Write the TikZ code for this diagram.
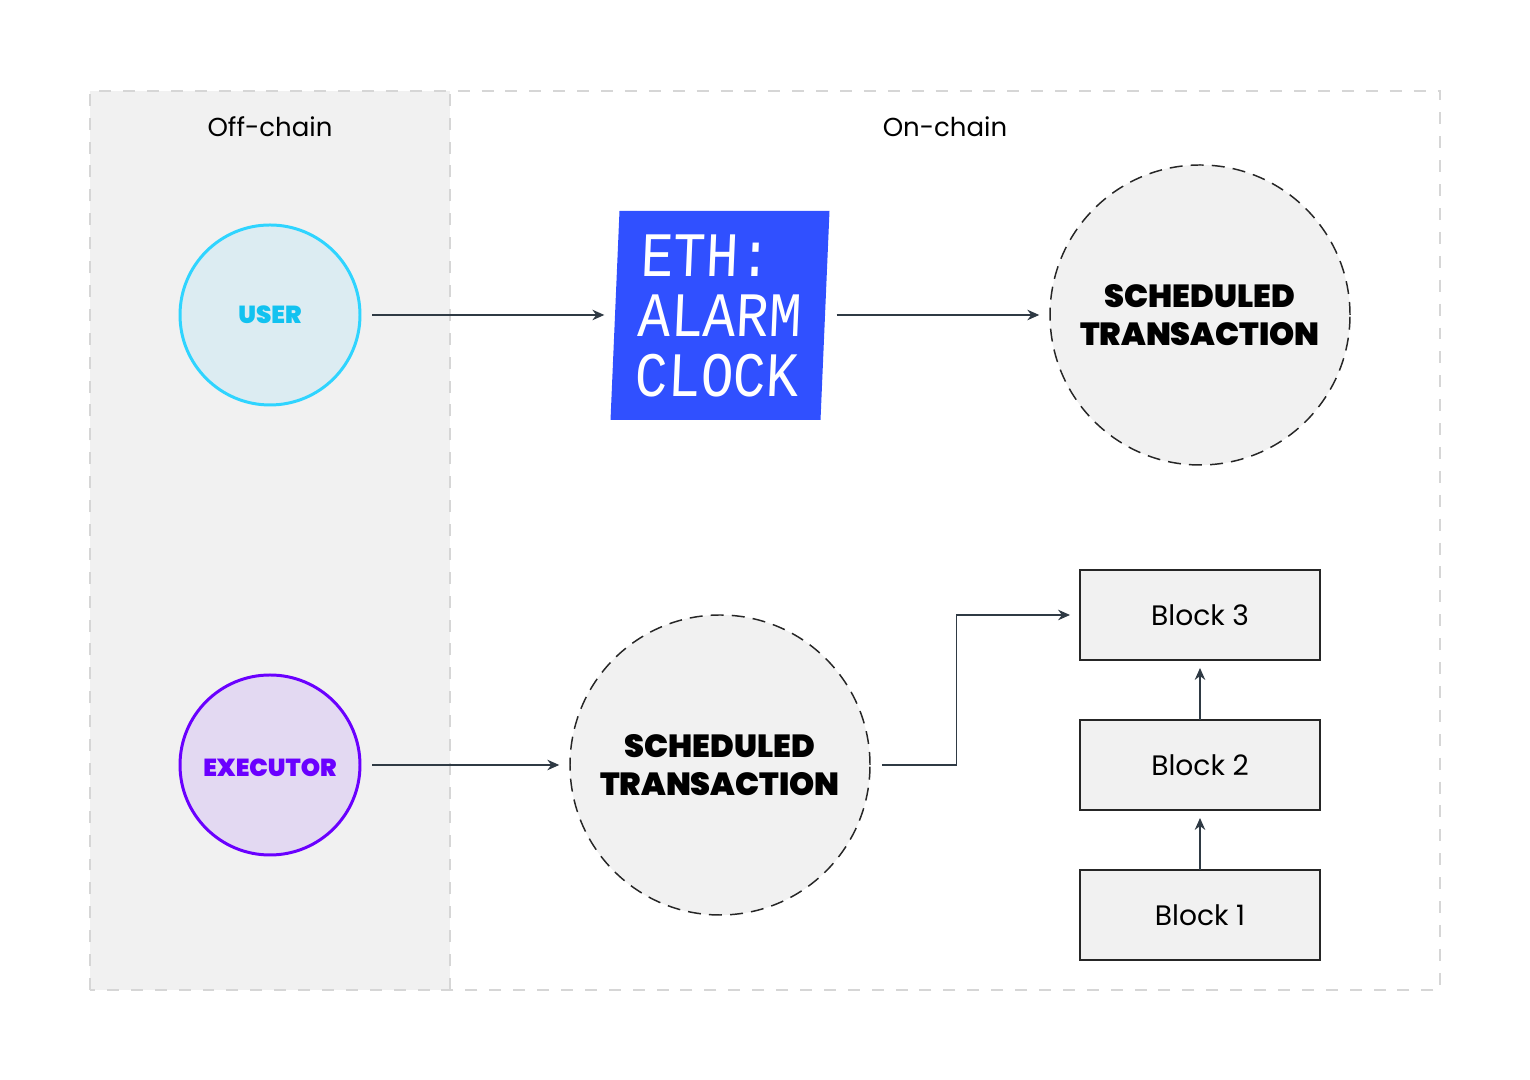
\documentclass[tikz,border=0pt]{standalone}
\usepackage{fontspec}
\setmainfont{Poppins}
\newfontfamily\heavyfont[UprightFont={* Black}]{Poppins}
\newfontfamily\clockfont[FakeStretch=0.86]{Liberation Mono}
\usetikzlibrary{positioning}
\usetikzlibrary{arrows.meta}

\definecolor{panelgray}{HTML}{F1F1F1}
\definecolor{dashgray}{HTML}{D6D6D6}
\definecolor{linedark}{HTML}{2F3A44}
\definecolor{usercyan}{HTML}{2FD4FF}
\definecolor{userfill}{HTML}{DCECF2}
\definecolor{usertext}{HTML}{12C2F0}
\definecolor{execpurple}{HTML}{6A00FF}
\definecolor{execfill}{HTML}{E3D9F2}
\definecolor{clockblue}{HTML}{3050FF}

\tikzset{
  zone/.style={draw=dashgray,line width=0.55pt,dash pattern=on 3.4pt off 3.4pt},
  zonelabel/.style={font=\fontsize{7.4pt}{10pt}\selectfont},
  actor/.style={circle,minimum size=1.8cm,inner sep=0,line width=0.85pt,font=\heavyfont\fontsize{7pt}{9pt}\selectfont},
  txcircle/.style={circle,draw=black!85,fill=panelgray,dash pattern=on 3.7pt off 2.3pt,line width=0.42pt,minimum size=3cm,inner sep=0,align=center,font=\heavyfont\fontsize{9.1pt}{10.8pt}\selectfont},
  blockbox/.style={draw=black!85,fill=panelgray,line width=0.4pt,minimum width=2.4cm,minimum height=0.9cm,inner sep=0,outer sep=0,font=\fontsize{8pt}{10pt}\selectfont},
  conn/.style={draw=linedark,line width=0.37pt,-{Stealth[length=3.4pt,width=3pt]}},
  gap/.style={shorten <=0.11cm,shorten >=0.1cm}
}

\begin{document}
\begin{tikzpicture}
\useasboundingbox (0,0) rectangle (15.3,10.8);

\fill[panelgray] (0.9,0.9) rectangle (4.5,9.89);
\draw[zone] (0.9,0.9) rectangle (14.4,9.89);
\draw[zone] (4.5,0.9) -- (4.5,9.89);

\node[zonelabel] (offchain) at (2.7,9.53) {Off-chain};
\node[zonelabel] (onchain) at (9.45,9.53) {On-chain};

\node[actor,draw=usercyan,fill=userfill,text=usertext] (user) at (2.7,7.65) {USER};
\node[actor,draw=execpurple,fill=execfill,text=execpurple,text height=0.23cm] (executor) at (2.7,3.15) {EXECUTOR};

\node[fill=clockblue,text=white,minimum width=2.1cm,minimum height=2.09cm,inner sep=0,xslant=0.043,transform shape,align=left,font=\clockfont\fontsize{18pt}{17.07pt}\selectfont] (clock) at (7.2,7.645) {ETH:\\ALARM\\CLOCK};

\node[txcircle] (txtop) at (12,7.65) {SCHEDULED\\TRANSACTION};
\node[txcircle] (txbottom) at (7.2,3.15) {SCHEDULED\\TRANSACTION};

\node[blockbox] (block1) at (12,1.65) {Block 1};
\node[blockbox,above=0.6cm of block1] (block2) {Block 2};
\node[blockbox,above=0.6cm of block2] (block3) {Block 3};

\draw[conn,gap] (user) -- (user -| clock.west);
\draw[conn,gap] (user -| clock.east) -- (txtop);
\draw[conn,gap] (executor) -- (txbottom);
\draw[conn,gap] (txbottom.east) -- ++(0.86,0) |- (block3.west);
\draw[conn,shorten >=0.08cm] (block1) -- (block2);
\draw[conn,shorten >=0.08cm] (block2) -- (block3);

\end{tikzpicture}
\end{document}
